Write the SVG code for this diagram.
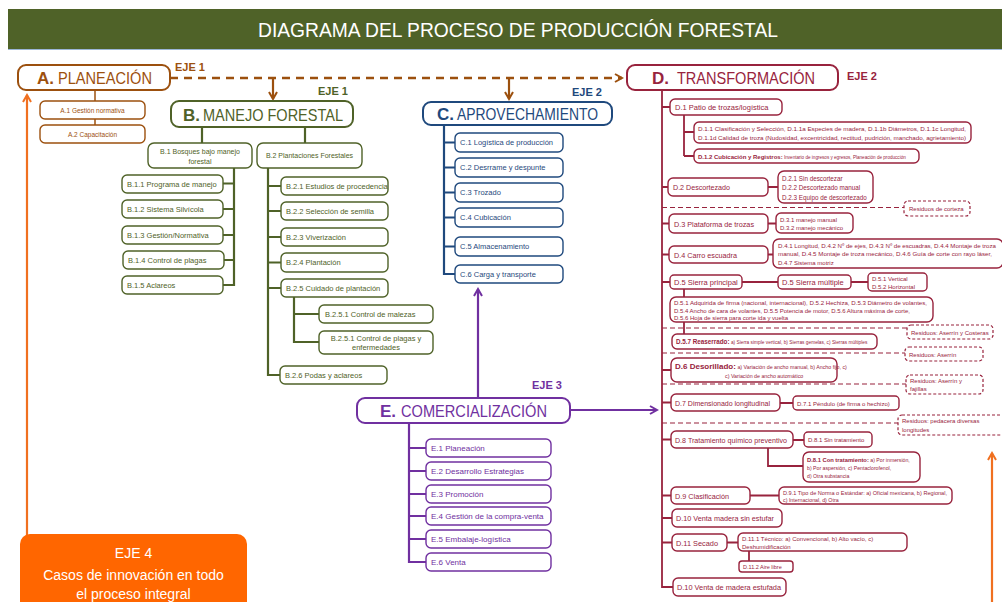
<svg xmlns="http://www.w3.org/2000/svg" width="1002" height="602" viewBox="0 0 1002 602">
<defs>
<style>
text{font-family:"Liberation Sans",Arial,sans-serif}
.hd{font-size:17px}
.b{font-weight:bold}
.ca{fill:#9c500e}.cb{fill:#4f6228}.cc{fill:#1f497d}.cd{fill:#98233d}.ce{fill:#7030a0}
.bx{fill:#fff;stroke-width:1.4}
.mbx{fill:#fff;stroke-width:2}
.sa{stroke:#9c500e}.sb{stroke:#4f6228}.sc{stroke:#1f497d}.sd{stroke:#98233d}.se{stroke:#7030a0}
.res{fill:#fff;stroke:#98233d;stroke-width:1.2;stroke-dasharray:3 2}
.eje{font-size:11px;font-weight:bold}
.s8{font-size:8px}.s7{font-size:7.5px}.s6{font-size:6px}.s5{font-size:5px}
</style>
<marker id="arA" markerWidth="10" markerHeight="10" refX="8" refY="5" orient="auto" markerUnits="userSpaceOnUse"><path d="M1,1 L8,5 L1,9" fill="none" stroke="#9c500e" stroke-width="2"/></marker>
<marker id="arE" markerWidth="10" markerHeight="10" refX="8" refY="5" orient="auto" markerUnits="userSpaceOnUse"><path d="M1,1 L8,5 L1,9" fill="none" stroke="#7030a0" stroke-width="2"/></marker>
<marker id="arO" markerWidth="10" markerHeight="10" refX="8" refY="5" orient="auto" markerUnits="userSpaceOnUse"><path d="M1,1 L8,5 L1,9" fill="none" stroke="#f07020" stroke-width="2"/></marker>
</defs>

<!-- title band -->
<g id="title">
<rect x="8" y="9" width="994" height="40" fill="#4f6228"/>
<line x1="8" y1="49.5" x2="1002" y2="49.5" stroke="#9bb5d6" stroke-width="1"/>
<text x="518" y="37" text-anchor="middle" font-size="20" fill="#fff" textLength="520" lengthAdjust="spacingAndGlyphs">DIAGRAMA DEL PROCESO DE PRODUCCIÓN FORESTAL</text>
</g>

<!-- connectors -->
<g id="connectors" stroke-linecap="butt">
<!-- axis 1 -->
<line x1="170" y1="78" x2="622" y2="78" stroke="#9c500e" stroke-width="2.5" stroke-dasharray="8 6" marker-end="url(#arA)"/>
<line x1="273" y1="78" x2="273" y2="99" stroke="#9c500e" stroke-width="2.2" marker-end="url(#arA)"/>
<line x1="509" y1="78" x2="509" y2="99" stroke="#9c500e" stroke-width="2.2" marker-end="url(#arA)"/>
<line x1="95" y1="90" x2="95" y2="125" stroke="#9c500e" stroke-width="1.5"/>
<!-- B tree -->
<g stroke="#4f6228" stroke-width="2.2" fill="none">
<line x1="202" y1="127" x2="202" y2="143"/>
<line x1="305" y1="127" x2="305" y2="143"/>
<line x1="234" y1="168" x2="234" y2="286"/>
<path d="M223,183.5H234M223,209H234M223,235H234M223,260H234M223,285H234"/>
<line x1="268" y1="168" x2="268" y2="376"/>
<path d="M268,186H281M268,211H281M268,237H281M268,262.5H281M268,288H281M268,375H280"/>
<line x1="294" y1="297" x2="294" y2="343"/>
<path d="M294,314H319M294,342H319"/>
</g>
<!-- C tree -->
<g stroke="#1f497d" stroke-width="2.2" fill="none">
<line x1="444" y1="125" x2="444" y2="275"/>
<path d="M444,142.5H455M444,167.5H455M444,192.5H455M444,217.5H455M444,246.5H455M444,274H455"/>
</g>
<!-- E tree and links -->
<g stroke="#7030a0" stroke-width="2.2" fill="none">
<line x1="478" y1="398" x2="478" y2="289" marker-end="url(#arE)"/>
<line x1="570" y1="410" x2="657" y2="410" marker-end="url(#arE)"/>
<line x1="409" y1="423" x2="409" y2="563"/>
<path d="M409,448H426M409,471H426M409,494H426M409,516H426M409,539H426M409,562H426"/>
</g>
<!-- D tree -->
<g stroke="#98233d" stroke-width="1.8" fill="none">
<line x1="662" y1="90" x2="662" y2="588"/>
<path d="M662,107H670M662,187H668M662,223.5H669M662,254.5H669M662,282H670M662,370H671M662,402.5H671M662,439.5H671M662,495.5H671M662,518H672M662,542.5H672M662,587H673"/>
<line x1="684" y1="115" x2="684" y2="156"/>
<path d="M684,132H694M684,156H694"/>
<path d="M768,187H778M768,223.5H776M768,254.5H773M742,282H778M851,282H868M780,403H793M793,440H804M750,495.5H779M727,542.5H738"/>
<path d="M684,289V297M684,322V334"/>
<path d="M768,448V466H803"/>
<path d="M749,551V561"/>
</g>
<g stroke="#98233d" stroke-width="1.2" stroke-dasharray="5 3" fill="none">
<path d="M662,207.5H904M662,328H907M662,353H905M662,384H906M662,423H898"/>
</g>
<!-- axis 4 -->
<line x1="27" y1="546" x2="27" y2="95" stroke="#f07020" stroke-width="2.2" marker-end="url(#arO)"/>
<line x1="992" y1="602" x2="992" y2="453" stroke="#f07020" stroke-width="2.2" marker-end="url(#arO)"/>
</g>

<!-- A -->
<g id="nodeA">
<rect class="mbx sa" x="18" y="65" width="152" height="25" rx="8"/>
<text class="hd ca b" x="37" y="84">A.</text>
<text class="hd ca" x="58" y="84" textLength="94" lengthAdjust="spacingAndGlyphs">PLANEACIÓN</text>
<text class="eje ca" x="175" y="71">EJE 1</text>
</g>
<g id="nodeA1"><rect class="bx sa" x="40" y="101" width="105" height="18" rx="5"/><text class="ca" font-size="6.5" x="92.5" y="112.5" text-anchor="middle">A.1 Gestión normativa</text></g>
<g id="nodeA2"><rect class="bx sa" x="40" y="125" width="105" height="18" rx="5"/><text class="ca" font-size="6.5" x="92.5" y="136.5" text-anchor="middle">A.2 Capacitación</text></g>

<!-- B -->
<g id="nodeB">
<rect class="mbx sb" x="171" y="101" width="182" height="26" rx="8"/>
<text class="hd cb b" x="183" y="121">B.</text>
<text class="hd cb" x="203" y="121" textLength="140" lengthAdjust="spacingAndGlyphs">MANEJO FORESTAL</text>
<text class="eje cb" x="318" y="95">EJE 1</text>
</g>
<g id="nodeB1"><rect class="bx sb" x="148" y="143" width="104" height="25" rx="6"/><text class="cb" font-size="7" x="200" y="154" text-anchor="middle">B.1 Bosques bajo manejo</text><text class="cb" font-size="7" x="200" y="164" text-anchor="middle">forestal</text></g>
<g id="nodeB2"><rect class="bx sb" x="257" y="143" width="105" height="25" rx="6"/><text class="cb" font-size="7" x="309.5" y="158" text-anchor="middle">B.2 Plantaciones Forestales</text></g>
<g id="nodeB11"><rect class="bx sb" x="122" y="175" width="101" height="18" rx="5"/><text class="cb s7" x="127" y="186.5">B.1.1 Programa de manejo</text></g>
<g id="nodeB12"><rect class="bx sb" x="122" y="200" width="101" height="18" rx="5"/><text class="cb s7" x="127" y="211.5">B.1.2 Sistema Silvícola</text></g>
<g id="nodeB13"><rect class="bx sb" x="122" y="226" width="101" height="18" rx="5"/><text class="cb s7" x="127" y="237.5">B.1.3 Gestión/Normativa</text></g>
<g id="nodeB14"><rect class="bx sb" x="123" y="251" width="101" height="18" rx="5"/><text class="cb s7" x="128" y="262.5">B.1.4 Control de plagas</text></g>
<g id="nodeB15"><rect class="bx sb" x="122" y="276" width="101" height="18" rx="5"/><text class="cb s7" x="127" y="287.5">B.1.5 Aclareos</text></g>
<g id="nodeB21"><rect class="bx sb" x="281" y="177" width="107" height="18" rx="5"/><text class="cb s7" x="286" y="188.5">B.2.1 Estudios de procedencia</text></g>
<g id="nodeB22"><rect class="bx sb" x="281" y="202" width="107" height="18" rx="5"/><text class="cb s7" x="286" y="213.5">B.2.2 Selección de semilla</text></g>
<g id="nodeB23"><rect class="bx sb" x="281" y="228" width="107" height="18" rx="5"/><text class="cb s7" x="286" y="239.5">B.2.3 Viverización</text></g>
<g id="nodeB24"><rect class="bx sb" x="281" y="253" width="107" height="19" rx="5"/><text class="cb s7" x="286" y="265">B.2.4 Plantación</text></g>
<g id="nodeB25"><rect class="bx sb" x="281" y="279" width="107" height="18" rx="5"/><text class="cb s7" x="286" y="290.5">B.2.5 Cuidado de plantación</text></g>
<g id="nodeB251"><rect class="bx sb" x="319" y="305" width="114" height="18" rx="5"/><text class="cb s7" x="325" y="316.5">B.2.5.1 Control de malezas</text></g>
<g id="nodeB252"><rect class="bx sb" x="319" y="331" width="114" height="23" rx="5"/><text class="cb s7" x="376" y="340.5" text-anchor="middle">B.2.5.1 Control de plagas y</text><text class="cb s7" x="376" y="350" text-anchor="middle">enfermedades</text></g>
<g id="nodeB26"><rect class="bx sb" x="280" y="366" width="107" height="18" rx="5"/><text class="cb s7" x="285" y="377.5">B.2.6 Podas y aclareos</text></g>

<!-- C -->
<g id="nodeC">
<rect class="mbx sc" x="423" y="102" width="189" height="23" rx="8"/>
<text class="hd cc b" x="437" y="120">C.</text>
<text class="hd cc" x="457" y="120" textLength="141" lengthAdjust="spacingAndGlyphs">APROVECHAMIENTO</text>
<text class="eje cc" x="572" y="96">EJE 2</text>
</g>
<g id="nodeC1"><rect class="bx sc" x="455" y="133" width="108" height="19" rx="5"/><text class="cc s7" x="460" y="145">C.1 Logística de producción</text></g>
<g id="nodeC2"><rect class="bx sc" x="455" y="158" width="108" height="19" rx="5"/><text class="cc s7" x="460" y="170">C.2 Desrrame y despunte</text></g>
<g id="nodeC3"><rect class="bx sc" x="455" y="183" width="108" height="19" rx="5"/><text class="cc s7" x="460" y="195">C.3 Trozado</text></g>
<g id="nodeC4"><rect class="bx sc" x="455" y="208" width="108" height="19" rx="5"/><text class="cc s7" x="460" y="220">C.4 Cubicación</text></g>
<g id="nodeC5"><rect class="bx sc" x="455" y="237" width="108" height="19" rx="5"/><text class="cc s7" x="460" y="249">C.5 Almacenamiento</text></g>
<g id="nodeC6"><rect class="bx sc" x="455" y="265" width="108" height="18" rx="5"/><text class="cc s7" x="460" y="276.5">C.6 Carga y transporte</text></g>

<!-- E -->
<g id="nodeE">
<rect class="mbx se" x="357" y="398" width="213" height="25" rx="8"/>
<text class="hd ce b" x="380" y="417">E.</text>
<text class="hd ce" x="401" y="417" textLength="146" lengthAdjust="spacingAndGlyphs">COMERCIALIZACIÓN</text>
<text class="eje ce" x="532" y="389">EJE 3</text>
</g>
<g id="nodeE1"><rect class="bx se" x="426" y="439" width="125" height="18" rx="5"/><text class="ce s8" x="431" y="451">E.1 Planeación</text></g>
<g id="nodeE2"><rect class="bx se" x="426" y="462" width="125" height="18" rx="5"/><text class="ce s8" x="431" y="474">E.2 Desarrollo Estrategias</text></g>
<g id="nodeE3"><rect class="bx se" x="426" y="485" width="125" height="18" rx="5"/><text class="ce s8" x="431" y="497">E.3 Promoción</text></g>
<g id="nodeE4"><rect class="bx se" x="426" y="507" width="125" height="18" rx="5"/><text class="ce s8" x="431" y="519">E.4 Gestión de la compra-venta</text></g>
<g id="nodeE5"><rect class="bx se" x="426" y="530" width="125" height="18" rx="5"/><text class="ce s8" x="431" y="542">E.5 Embalaje-logística</text></g>
<g id="nodeE6"><rect class="bx se" x="426" y="553" width="125" height="18" rx="5"/><text class="ce s8" x="431" y="565">E.6 Venta</text></g>

<!-- D -->
<g id="nodeD">
<rect class="mbx sd" x="627" y="65" width="211" height="25" rx="8"/>
<text class="hd cd b" x="652" y="84">D.</text>
<text class="hd cd" x="677" y="84" textLength="138" lengthAdjust="spacingAndGlyphs">TRANSFORMACIÓN</text>
<text class="eje cd" x="847" y="80">EJE 2</text>
</g>
<g id="nodeD1"><rect class="bx sd" x="670" y="99" width="112" height="16" rx="5"/><text class="cd s7" x="675" y="110">D.1 Patio de trozas/logística</text></g>
<g id="nodeD11"><rect class="bx sd" x="694" y="122" width="277" height="21" rx="5"/>
<text class="cd" font-size="5.6" x="698" y="130.5" textLength="268" lengthAdjust="spacingAndGlyphs">D.1.1 Clasificación y Selección, D.1.1a Especies de madera, D.1.1b Diámetros, D.1.1c Longitud,</text>
<text class="cd" font-size="5.6" x="698" y="139.5" textLength="268" lengthAdjust="spacingAndGlyphs">D.1.1d Calidad de troza (Nudosidad, excentricidad, rectitud, pudrición, manchado, agrietamiento)</text></g>
<g id="nodeD12"><rect class="bx sd" x="694" y="149" width="225" height="14" rx="5"/><text class="cd" x="698" y="158.5"><tspan class="b" font-size="6">D.1.2 Cubicación y Registros:</tspan><tspan font-size="4.6"> Inventario de ingresos y egresos, Planeación de producción</tspan></text></g>
<g id="nodeD2"><rect class="bx sd" x="668" y="178" width="100" height="18" rx="5"/><text class="cd s8" x="673" y="190" textLength="57" lengthAdjust="spacingAndGlyphs">D.2 Descortezado</text></g>
<g id="nodeD2s"><rect class="bx sd" x="778" y="171" width="95" height="32" rx="6"/><text class="cd" font-size="6.3" x="782" y="180.5">D.2.1 Sin descortezar</text><text class="cd" font-size="6.3" x="782" y="190">D.2.2 Descortezado manual</text><text class="cd" font-size="6.3" x="782" y="199.5">D.2.3 Equipo de descortezado</text></g>
<g id="resD1"><rect class="res" x="904" y="201" width="66" height="15" rx="4"/><text class="cd s6" x="909" y="211">Residuos de corteza</text></g>
<g id="nodeD3"><rect class="bx sd" x="669" y="214" width="99" height="19" rx="5"/><text class="cd s8" x="674" y="226.5" textLength="80" lengthAdjust="spacingAndGlyphs">D.3 Plataforma de trozas</text></g>
<g id="nodeD3s"><rect class="bx sd" x="776" y="213" width="77" height="20" rx="5"/><text class="cd s6" x="780" y="221.5">D.3.1 manejo manual</text><text class="cd s6" x="780" y="230">D.3.2 manejo mecánico</text></g>
<g id="nodeD4"><rect class="bx sd" x="669" y="246" width="99" height="17" rx="5"/><text class="cd s8" x="674" y="257.5" textLength="63" lengthAdjust="spacingAndGlyphs">D.4 Carro escuadra</text></g>
<g id="nodeD4s"><rect class="bx sd" x="773" y="239" width="230" height="29" rx="6"/>
<text class="cd s6" x="778" y="247.5" textLength="218" lengthAdjust="spacingAndGlyphs">D.4.1 Longitud, D.4.2 Nº de ejes, D.4.3 Nº de escuadras, D.4.4 Montaje de troza</text>
<text class="cd s6" x="778" y="256" textLength="214" lengthAdjust="spacingAndGlyphs">manual, D.4.5 Montaje de troza mecánico, D.4.6 Guía de corte con rayo láser,</text>
<text class="cd s6" x="778" y="264.5">D.4.7 Sistema motriz</text></g>
<g id="nodeD5"><rect class="bx sd" x="670" y="275" width="72" height="14" rx="4"/><text class="cd s7" x="674" y="285">D.5 Sierra principal</text></g>
<g id="nodeD5m"><rect class="bx sd" x="778" y="275" width="73" height="14" rx="4"/><text class="cd s7" x="782" y="285">D.5 Sierra múltiple</text></g>
<g id="nodeD5o"><rect class="bx sd" x="868" y="273" width="59" height="18" rx="4"/><text class="cd s6" x="872" y="280.5">D.5.1 Vertical</text><text class="cd s6" x="872" y="288.5">D.5.2 Horizontal</text></g>
<g id="nodeD5d"><rect class="bx sd" x="670" y="297" width="263" height="25" rx="6"/>
<text class="cd s6" x="674" y="304.5" textLength="253" lengthAdjust="spacingAndGlyphs">D.5.1 Adquirida de firma (nacional, internacional), D.5.2 Hechiza, D.5.3 Diámetro de volantes,</text>
<text class="cd s6" x="674" y="312.5" textLength="236" lengthAdjust="spacingAndGlyphs">D.5.4 Ancho de cara de volantes, D.5.5 Potencia de motor, D.5.6 Altura máxima de corte,</text>
<text class="cd s6" x="674" y="320">D.5.6 Hoja de sierra para corte ida y vuelta</text></g>
<g id="resD2"><rect class="res" x="907" y="325" width="86" height="14" rx="4"/><text class="cd s6" x="911" y="334.5">Residuos: Aserrín y Costeras</text></g>
<g id="nodeD57"><rect class="bx sd" x="672" y="334" width="205" height="15" rx="5"/><text class="cd" x="676" y="344"><tspan class="b" font-size="6.3">D.5.7 Reaserrado:</tspan><tspan font-size="4.8"> a) Sierra simple vertical, b) Sierras gemelas, c) Sierras múltiples</tspan></text></g>
<g id="resD3"><rect class="res" x="905" y="347" width="78" height="14" rx="4"/><text class="cd s6" x="909" y="356.5">Residuos: Aserrín</text></g>
<g id="nodeD6"><rect class="bx sd" x="671" y="358" width="166" height="24" rx="6"/><text class="cd" x="675" y="368.5"><tspan class="b" font-size="8">D.6 Desorillado:</tspan><tspan font-size="5.3"> a) Variación de ancho manual, b) Ancho fijo, c)</tspan></text><text class="cd" font-size="5.3" x="725" y="378">c) Variación de ancho automático</text></g>
<g id="resD4"><rect class="res" x="906" y="375" width="77" height="19" rx="4"/><text class="cd s6" x="910" y="383">Residuos: Aserrín y</text><text class="cd s6" x="910" y="391">fajillas</text></g>
<g id="nodeD7"><rect class="bx sd" x="671" y="394" width="109" height="17" rx="5"/><text class="cd s8" x="675" y="405.5" textLength="95" lengthAdjust="spacingAndGlyphs">D.7 Dimensionado longitudinal</text></g>
<g id="nodeD71"><rect class="bx sd" x="793" y="396" width="106" height="14" rx="4"/><text class="cd s6" x="797" y="405.5">D.7.1 Péndulo (de firma o hechizo)</text></g>
<g id="resD5"><rect class="res" x="898" y="415" width="110" height="20" rx="4"/><text class="cd s6" x="902" y="423">Residuos: pedacera diversas</text><text class="cd s6" x="902" y="431.5">longitudes</text></g>
<g id="nodeD8"><rect class="bx sd" x="671" y="431" width="122" height="17" rx="5"/><text class="cd s8" x="675" y="442.5" textLength="112" lengthAdjust="spacingAndGlyphs">D.8 Tratamiento químico preventivo</text></g>
<g id="nodeD81s"><rect class="bx sd" x="804" y="432" width="68" height="15" rx="4"/><text class="cd s6" x="808" y="442">D.8.1 Sin tratamiento</text></g>
<g id="nodeD81c"><rect class="bx sd" x="803" y="452" width="117" height="30" rx="6"/><text class="cd" x="807" y="462"><tspan class="b" font-size="5.8">D.8.1 Con tratamiento:</tspan><tspan font-size="5.2"> a) Por inmersión,</tspan></text><text class="cd" font-size="5.2" x="807" y="470">b) Por aspersión, c) Pentaclorofenol,</text><text class="cd" font-size="5.2" x="807" y="478">d) Otra substancia</text></g>
<g id="nodeD9"><rect class="bx sd" x="671" y="487" width="79" height="17" rx="5"/><text class="cd s8" x="675" y="498.5" textLength="54" lengthAdjust="spacingAndGlyphs">D.9 Clasificación</text></g>
<g id="nodeD91"><rect class="bx sd" x="779" y="487" width="173" height="17" rx="5"/><text class="cd" font-size="5.3" x="783" y="494.5" textLength="164" lengthAdjust="spacingAndGlyphs">D.9.1 Tipo de Norma o Estándar: a) Oficial mexicana, b) Regional,</text><text class="cd" font-size="5.3" x="783" y="501.5">c) Internacional, d) Otra</text></g>
<g id="nodeD10"><rect class="bx sd" x="672" y="509" width="110" height="18" rx="5"/><text class="cd s8" x="676" y="521" textLength="98" lengthAdjust="spacingAndGlyphs">D.10 Venta madera sin estufar</text></g>
<g id="nodeD11n"><rect class="bx sd" x="672" y="534" width="55" height="17" rx="5"/><text class="cd s8" x="676" y="545.5" textLength="42" lengthAdjust="spacingAndGlyphs">D.11 Secado</text></g>
<g id="nodeD111"><rect class="bx sd" x="738" y="533" width="169" height="18" rx="5"/><text class="cd s6" x="742" y="540.5">D.11.1 Técnico: a) Convencional, b) Alto vacío, c)</text><text class="cd s6" x="742" y="548.5">Deshumidificación</text></g>
<g id="nodeD112"><rect class="bx sd" x="739" y="561" width="54" height="11" rx="3"/><text class="cd" font-size="5.5" x="743" y="568.5">D.11.2 Aire libre</text></g>
<g id="nodeD10b"><rect class="bx sd" x="673" y="578" width="113" height="18" rx="5"/><text class="cd s8" x="677" y="590" textLength="104" lengthAdjust="spacingAndGlyphs">D.10 Venta de madera estufada</text></g>

<!-- axis 4 -->
<g id="nodeEje4">
<rect x="20" y="534" width="227" height="80" rx="10" fill="#ff6600"/>
<text x="133.5" y="558" text-anchor="middle" font-size="14" fill="#fff">EJE 4</text>
<text x="133.5" y="580" text-anchor="middle" font-size="14" fill="#fff">Casos de innovación en todo</text>
<text x="133.5" y="599" text-anchor="middle" font-size="14" fill="#fff">el proceso integral</text>
</g>
</svg>
